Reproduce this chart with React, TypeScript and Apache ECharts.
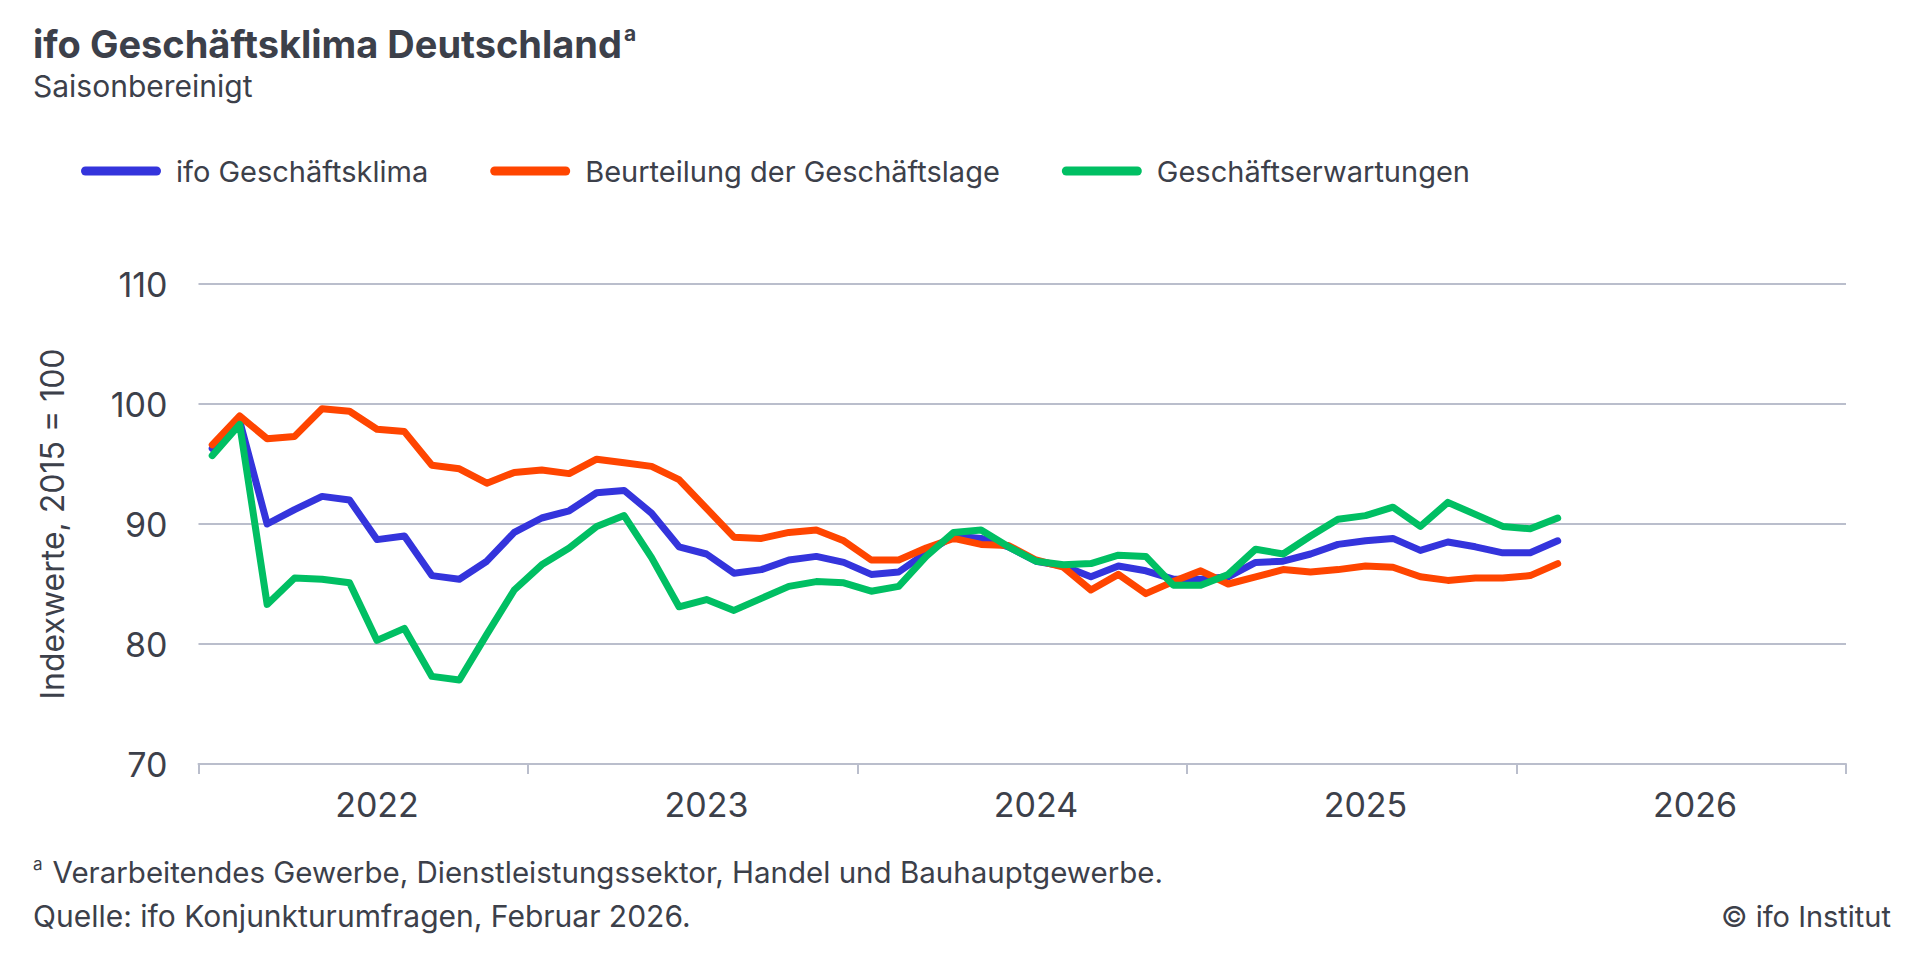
import React, { useEffect, useRef } from "react";
import * as echarts from "echarts";

const years = ["2022", "2023", "2024", "2025", "2026"];
const categories: string[] = years.flatMap((y) =>
  Array.from({ length: 12 }, (_, m) => `${y}-${String(m + 1).padStart(2, "0")}`)
);

const klima = [
  96.3, 98.6, 90.0, 91.2, 92.3, 92.0, 88.7, 89.0, 85.7, 85.4,
  86.9, 89.3, 90.5, 91.1, 92.6, 92.8, 90.9, 88.1, 87.5, 85.9,
  86.2, 87.0, 87.3, 86.8, 85.8, 86.0, 87.6, 89.0, 88.8, 88.1,
  86.9, 86.5, 85.6, 86.5, 86.1, 85.4, 85.4, 85.6, 86.8, 86.9,
  87.5, 88.3, 88.6, 88.8, 87.8, 88.5, 88.1, 87.6, 87.6, 88.6,
];
const lage = [
  96.6, 99.0, 97.1, 97.3, 99.6, 99.4, 97.9, 97.7, 94.9, 94.6,
  93.4, 94.3, 94.5, 94.2, 95.4, 95.1, 94.8, 93.7, 91.3, 88.9,
  88.8, 89.3, 89.5, 88.6, 87.0, 87.0, 88.0, 88.8, 88.3, 88.2,
  87.0, 86.4, 84.5, 85.8, 84.2, 85.2, 86.1, 85.0, 85.6, 86.2,
  86.0, 86.2, 86.5, 86.4, 85.6, 85.3, 85.5, 85.5, 85.7, 86.7,
];
const erwartungen = [
  95.7, 98.3, 83.3, 85.5, 85.4, 85.1, 80.3, 81.3, 77.3, 77.0,
  80.8, 84.5, 86.6, 88.0, 89.8, 90.7, 87.2, 83.1, 83.7, 82.8,
  83.8, 84.8, 85.2, 85.1, 84.4, 84.8, 87.3, 89.3, 89.5, 88.1,
  86.9, 86.6, 86.7, 87.4, 87.3, 84.9, 84.9, 85.8, 87.9, 87.5,
  89.0, 90.4, 90.7, 91.4, 89.8, 91.8, 90.8, 89.8, 89.6, 90.5,
];

const seriesNames = ["ifo Geschäftsklima", "Beurteilung der Geschäftslage", "Geschäftserwartungen"];
const seriesColors = ["#3434DC", "#FF4500", "#00BF63"];
const seriesData = [klima, lage, erwartungen];

const yTicks = { min: 70, max: 110, interval: 10 };

const TEXT = "#3c404a";
const GRID = "#babecc";
const FONT = "Inter, 'Noto Sans', sans-serif";
const LEGEND_ICON = "path://M4.5,0 L75.5,0 A4.5,4.5 0 0 1 75.5,9 L4.5,9 A4.5,4.5 0 0 1 4.5,0 Z";

export default function App() {
  const ref = useRef<HTMLDivElement>(null);
  useEffect(() => {
    document.body.style.margin = "0";
    if (!ref.current) return;
    const chart = echarts.init(ref.current, undefined, { renderer: "svg" });
    chart.setOption({
      animation: false,
      backgroundColor: "#ffffff",
      textStyle: { fontFamily: FONT, color: TEXT },
      grid: { left: 198.5, right: 74, top: 284, bottom: 191, containLabel: false },
      legend: {
        left: 81,
        top: 154,
        padding: 0,
        itemWidth: 80,
        itemHeight: 9,
        itemGap: 62,
        icon: LEGEND_ICON,
        textStyle: { fontSize: 29, color: TEXT, fontFamily: FONT, lineHeight: 34, padding: [0, 0, 0, 10] },
        data: seriesNames.map((n, i) => ({ name: n, itemStyle: { color: seriesColors[i] } })),
      },
      xAxis: {
        type: "category",
        data: categories,
        boundaryGap: true,
        axisLine: { show: true, lineStyle: { color: GRID, width: 2 } },
        axisTick: { show: true, interval: 11, length: 10, lineStyle: { color: GRID, width: 2 } },
        axisLabel: {
          interval: (index: number) => index % 12 === 6,
          formatter: (v: string) => v.slice(0, 4),
          fontSize: 34,
          color: TEXT,
          margin: 23,
          fontFamily: FONT,
        },
        splitLine: { show: false },
      },
      yAxis: {
        type: "value",
        min: yTicks.min,
        max: yTicks.max,
        interval: yTicks.interval,
        name: "Indexwerte, 2015 = 100",
        nameLocation: "middle",
        nameGap: 130,
        nameTextStyle: { fontSize: 32, color: TEXT, fontFamily: FONT },
        axisLine: { show: false },
        axisTick: { show: false },
        axisLabel: { fontSize: 34, color: TEXT, margin: 31, fontFamily: FONT },
        splitLine: { lineStyle: { color: GRID, width: 2 } },
      },
      series: seriesNames.map((n, i) => ({
        name: n,
        type: "line",
        data: seriesData[i],
        symbol: "none",
        color: seriesColors[i],
        lineStyle: { width: 7, color: seriesColors[i], cap: "round", join: "round" },
        z: 2 + i,
      })),
      graphic: [
        {
          type: "text",
          left: 33,
          top: 23,
          style: {
            text: "{t|ifo Geschäftsklima Deutschland}{s|a}",
            rich: {
              t: { fontSize: 38, fontWeight: 700, fontFamily: FONT, fill: TEXT, lineHeight: 42 },
              s: { fontSize: 21, fontWeight: 700, fontFamily: FONT, fill: TEXT, verticalAlign: "top", lineHeight: 42, padding: [0, 0, 10, 2] },
            },
          },
        },
        {
          type: "text",
          x: 33,
          y: 86,
          style: { text: "Saisonbereinigt", fontSize: 30, fontFamily: FONT, fill: TEXT, verticalAlign: "middle" },
        },
        {
          type: "text",
          x: 33,
          y: 872,
          style: {
            text: "{s|a}{n|Verarbeitendes Gewerbe, Dienstleistungssektor, Handel und Bauhauptgewerbe.}",
            verticalAlign: "middle",
            rich: {
              s: { fontSize: 17, fontFamily: FONT, fill: TEXT, verticalAlign: "top", lineHeight: 34, padding: [0, 10, 0, 0] },
              n: { fontSize: 29.5, fontFamily: FONT, fill: TEXT, lineHeight: 34 },
            },
          },
        },
        {
          type: "text",
          x: 33,
          y: 916,
          style: { text: "Quelle: ifo Konjunkturumfragen, Februar 2026.", fontSize: 30, fontFamily: FONT, fill: TEXT, verticalAlign: "middle" },
        },
        {
          type: "text",
          x: 1891,
          y: 916,
          style: { text: "© ifo Institut", fontSize: 29, fontFamily: FONT, fill: TEXT, align: "right", verticalAlign: "middle" },
        },
      ],
    });
    return () => chart.dispose();
  }, []);
  return <div ref={ref} style={{ width: 1920, height: 955, position: "absolute", left: 0, top: 0 }} />;
}
